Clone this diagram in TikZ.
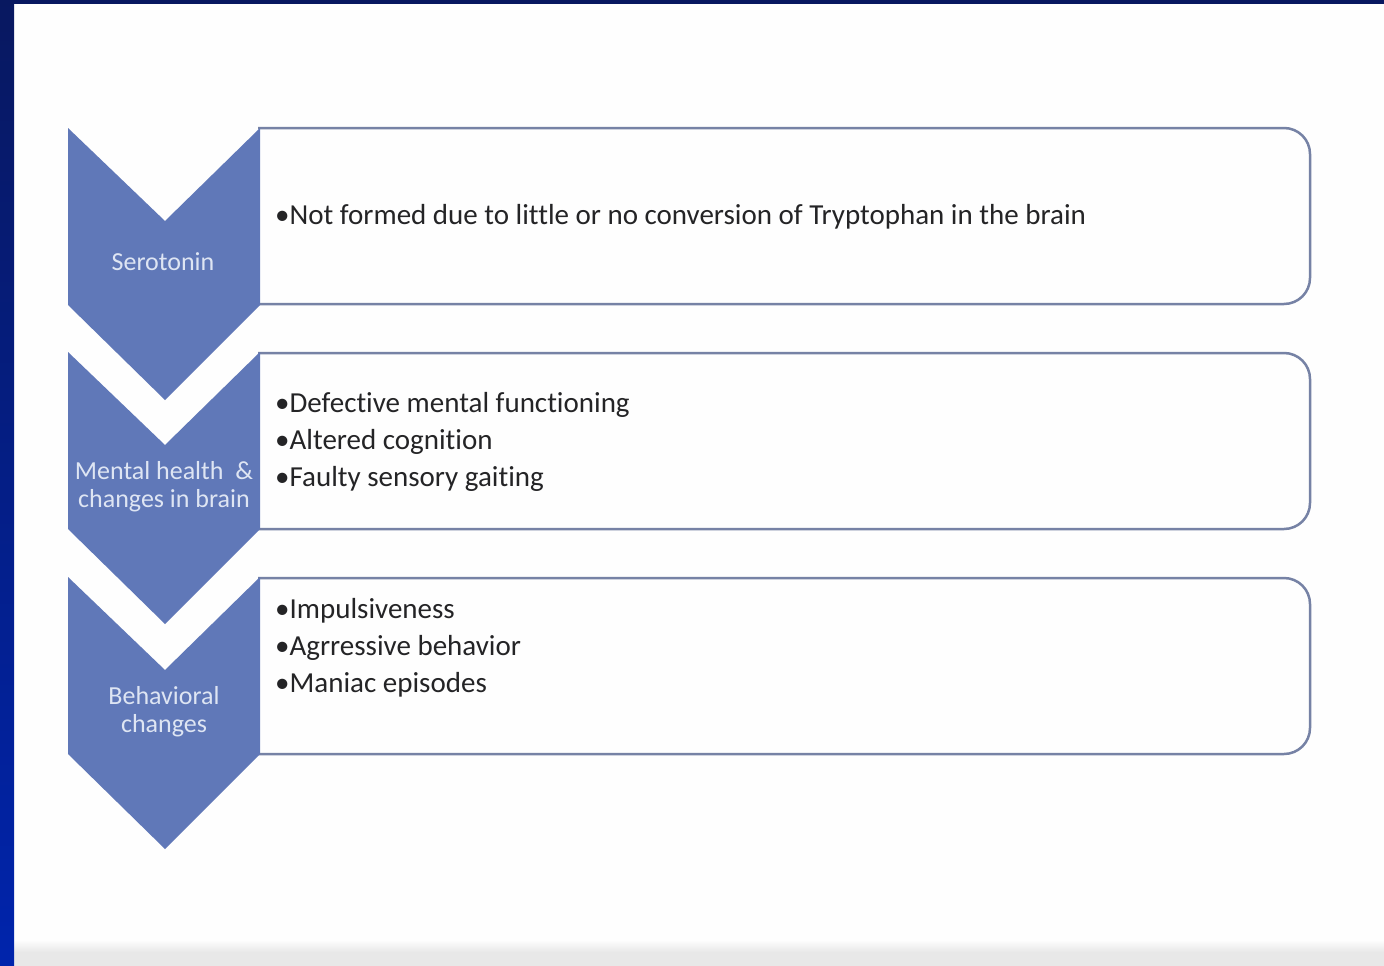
\documentclass[tikz,border=0pt]{standalone}
\usepackage{fontspec}
\setmainfont{Carlito}[Ligatures=NoCommon]
\definecolor{chev}{RGB}{96,120,184}
\definecolor{boxline}{RGB}{118,130,165}
\definecolor{labeltext}{RGB}{222,229,243}
\definecolor{bodytext}{RGB}{36,36,38}
\definecolor{navy}{RGB}{8,24,96}
\definecolor{brightblue}{RGB}{0,36,172}
\definecolor{footgray}{RGB}{232,232,232}
\tikzset{
  chevshape/.style={fill=chev, draw=none},
  boxshape/.style={draw=boxline, line width=2.5pt, rounded corners=26pt},
  label/.style={text=labeltext, font=\fontsize{26}{28}\selectfont, align=center, inner sep=0pt},
  itemtext/.style={text=bodytext, font=\fontsize{29}{37}\selectfont, align=left, anchor=west, inner sep=0pt}
}
\begin{document}
\begin{tikzpicture}[x=1pt, y=-1pt]
\useasboundingbox (0,0) rectangle (1384,966);
% background
\fill[white!99!gray] (0,0) rectangle (1384,966);
\fill[footgray] (0,952) rectangle (1384,966);
\shade[top color=white!99!gray, bottom color=footgray] (0,940) rectangle (1384,952);
\shade[top color=navy, bottom color=brightblue] (0,0) rectangle (14,966);
\fill[navy] (0,0) rectangle (1384,4);

% boxes (rounded on the right)
\draw[boxshape] (258,128) -- (1310,128) -- (1310,304) -- (258,304);
\draw[boxshape] (258,353) -- (1310,353) -- (1310,529) -- (258,529);
\draw[boxshape] (258,578) -- (1310,578) -- (1310,754) -- (258,754);

% chevrons
\foreach \y/\nm in {128/c1, 352/c2, 577/c3}{
  \fill[chevshape] (68,\y) -- (165,\y+93) -- (260,\y) -- (260,\y+177) -- (165,\y+272) -- (68,\y+177) -- cycle;
}

% chevron labels
\node[label] (l1) at (163,262) {Serotonin};
\node[label] (l2) at (164,487) {Mental health \ \&\\changes in brain};
\node[label] (l3) at (164,712) {Behavioral\\changes};

% box texts
\node[itemtext] (t1) at (275,217) {•Not formed due to little or no conversion of Tryptophan in the brain};
\node[itemtext] (t2) at (275,442) {•Defective mental functioning\\•Altered cognition\\•Faulty sensory gaiting};
\node[itemtext] (t3) at (275,648) {•Impulsiveness\\•Agrressive behavior\\•Maniac episodes};
\end{tikzpicture}
\end{document}
